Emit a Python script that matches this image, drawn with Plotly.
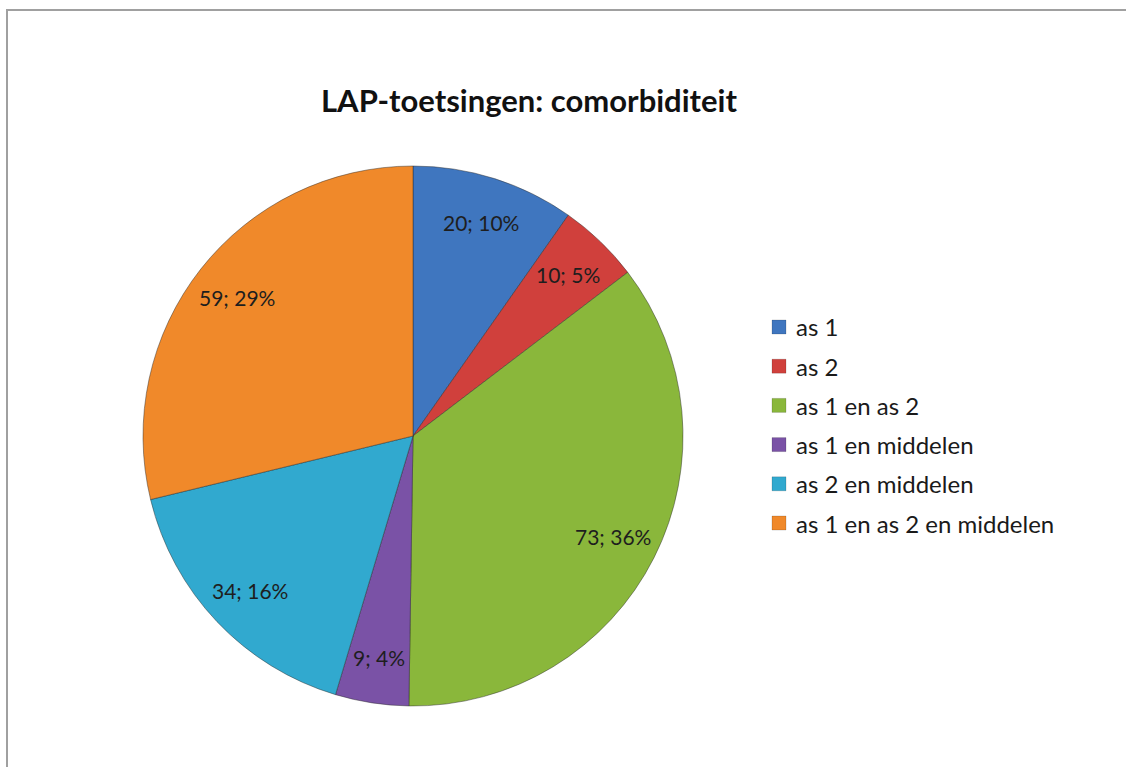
import math
import plotly.graph_objects as go

labels = ["as 1", "as 2", "as 1 en as 2", "as 1 en middelen", "as 2 en middelen", "as 1 en as 2 en middelen"]
values = [20, 10, 73, 9, 34, 59]
percents = ["10%", "5%", "36%", "4%", "16%", "29%"]
colors = ["#3f76bf", "#d0403c", "#8ab73b", "#7a52a6", "#31a9cf", "#f0892a"]

W, H = 1126, 767


def px(x):
    return x / W


def py(y):
    return 1 - y / H


cx_px, cy_px, R = 413, 436, 270

fig = go.Figure()
fig.add_trace(go.Pie(
    labels=labels, values=values, sort=False, direction="clockwise", rotation=0,
    marker=dict(colors=colors, line=dict(color="rgba(40,40,40,0.45)", width=1)),
    textinfo="none", hoverinfo="label+value+percent", showlegend=False,
    domain=dict(x=[px(cx_px - R), px(cx_px + R)], y=[py(cy_px + R), py(cy_px - R)]),
))

annotations = []
total = sum(values)
cum = 0
for v, p in zip(values, percents):
    mid = (cum + v / 2) / total * 2 * math.pi
    cum += v
    d = 0.83 * R
    annotations.append(dict(
        x=px(cx_px + d * math.sin(mid)), y=py(cy_px - d * math.cos(mid)),
        xref="paper", yref="paper", text=f"{v}; {p}", showarrow=False,
        font=dict(family="Lato", size=21, color="#1e1e1e"), xanchor="center", yanchor="middle"))

annotations.append(dict(x=px(529), y=py(100), xref="paper", yref="paper",
                        text="<b>LAP-toetsingen: comorbiditeit</b>", showarrow=False,
                        font=dict(family="Lato", size=31, color="#111111"),
                        xanchor="center", yanchor="middle"))

shapes = [dict(type="rect", xref="paper", yref="paper", x0=px(7), x1=1.05, y0=-0.05, y1=py(10),
               line=dict(color="#a0a0a0", width=2), fillcolor="rgba(0,0,0,0)")]

for i, (lab, col) in enumerate(zip(labels, colors)):
    yc = 327 + i * 39.2
    shapes.append(dict(type="rect", xref="paper", yref="paper",
                       x0=px(772), x1=px(786), y0=py(yc + 7), y1=py(yc - 7),
                       fillcolor=col, line=dict(color="rgba(0,0,0,0.3)", width=0.5)))
    annotations.append(dict(x=px(794), y=py(yc), xref="paper", yref="paper", text=lab,
                            showarrow=False, xanchor="left", yanchor="middle",
                            font=dict(family="Lato", size=24, color="#1a1a1a")))

fig.update_layout(width=W, height=H, margin=dict(l=0, r=0, t=0, b=0),
                  paper_bgcolor="white", plot_bgcolor="white",
                  annotations=annotations, shapes=shapes)
fig.write_html("out.html", config={"displayModeBar": False},
               post_script="document.body.style.margin='0';document.body.style.overflow='hidden';")
